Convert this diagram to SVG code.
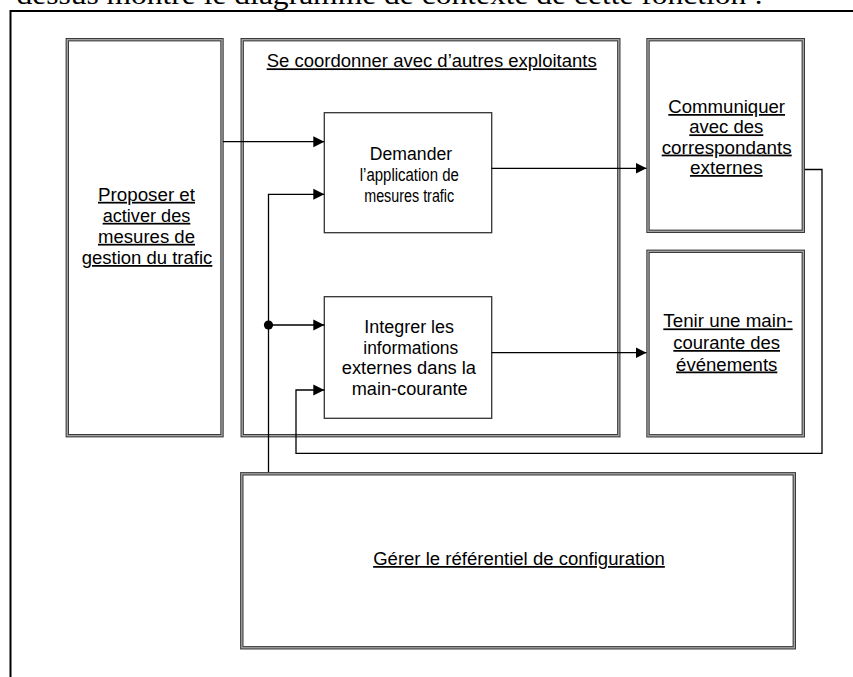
<svg xmlns="http://www.w3.org/2000/svg" width="853" height="677" viewBox="0 0 853 677">
<style>
.frame{fill:none;stroke:#000;stroke-width:2}
.dblo{fill:#fff;stroke:#3a3a3a;stroke-width:3.4}
.dbli{fill:none;stroke:#a8a8a8;stroke-width:1.3}
.box{fill:#fff;stroke:#333;stroke-width:1.3}
.con{fill:none;stroke:#000;stroke-width:1.3}
.t{font-family:"Liberation Sans",Arial,sans-serif;font-size:17.5px;fill:#000;text-anchor:middle}
.u{text-decoration:underline}
.cap{font-family:"Liberation Serif","Times New Roman",serif;font-size:28px;fill:#000}
</style>
<defs>
<marker id="arr" markerWidth="12" markerHeight="12" refX="11" refY="6" orient="auto" markerUnits="userSpaceOnUse">
<path d="M0,0.5 L11,6 L0,11.5 Z" fill="#000"/>
</marker>
</defs>
<rect width="853" height="677" fill="#fff"/>
<text class="cap" x="-2" y="4" textLength="765" lengthAdjust="spacingAndGlyphs">- dessus montre le diagramme de contexte de cette fonction :</text>
<path class="frame" d="M10.5,690 V11 H870"/>

<g id="node-proposer">
<rect class="dblo" x="67.3" y="39.7" width="154.7" height="396"/>
<rect class="dbli" x="67.3" y="39.7" width="154.7" height="396"/>
<text class="t u" x="146.5" y="200.8" textLength="97" lengthAdjust="spacingAndGlyphs">Proposer et</text>
<text class="t u" x="146.5" y="221.8" textLength="87.7" lengthAdjust="spacingAndGlyphs">activer des</text>
<text class="t u" x="146.5" y="242.8" textLength="97" lengthAdjust="spacingAndGlyphs">mesures de</text>
<text class="t u" x="147" y="264" textLength="130.7" lengthAdjust="spacingAndGlyphs">gestion du trafic</text>
</g>

<g id="node-coordonner">
<rect class="dblo" x="242.2" y="39.7" width="376.6" height="396"/>
<rect class="dbli" x="242.2" y="39.7" width="376.6" height="396"/>
<text class="t u" x="431.7" y="67.3" textLength="330" lengthAdjust="spacingAndGlyphs">Se coordonner avec d’autres exploitants</text>
</g>

<g id="node-demander">
<rect class="box" x="324.3" y="112.7" width="167.4" height="120"/>
<text class="t" x="411" y="160" textLength="82.3" lengthAdjust="spacingAndGlyphs">Demander</text>
<text class="t" x="409.3" y="181" textLength="99" lengthAdjust="spacingAndGlyphs">l’application de</text>
<text class="t" x="409.2" y="202" textLength="90" lengthAdjust="spacingAndGlyphs">mesures trafic</text>
</g>

<g id="node-integrer">
<rect class="box" x="324.3" y="296.7" width="167.4" height="121.6"/>
<text class="t" x="409.2" y="333.3" textLength="89.7" lengthAdjust="spacingAndGlyphs">Integrer les</text>
<text class="t" x="410.8" y="353.8" textLength="95" lengthAdjust="spacingAndGlyphs">informations</text>
<text class="t" x="408.9" y="374.4" textLength="134.3" lengthAdjust="spacingAndGlyphs">externes dans la</text>
<text class="t" x="409.7" y="395" textLength="116" lengthAdjust="spacingAndGlyphs">main-courante</text>
</g>

<g id="node-communiquer">
<rect class="dblo" x="648" y="39.7" width="155.3" height="191.6"/>
<rect class="dbli" x="648" y="39.7" width="155.3" height="191.6"/>
<text class="t u" x="726.7" y="113" textLength="116.7" lengthAdjust="spacingAndGlyphs">Communiquer</text>
<text class="t u" x="726.3" y="133.3" textLength="74" lengthAdjust="spacingAndGlyphs">avec des</text>
<text class="t u" x="726.7" y="153.6" textLength="130" lengthAdjust="spacingAndGlyphs">correspondants</text>
<text class="t u" x="726.3" y="174" textLength="72.7" lengthAdjust="spacingAndGlyphs">externes</text>
</g>

<g id="node-maincourante">
<rect class="dblo" x="648" y="251.3" width="155.3" height="184.5"/>
<rect class="dbli" x="648" y="251.3" width="155.3" height="184.5"/>
<text class="t u" x="728" y="327.4" textLength="129.3" lengthAdjust="spacingAndGlyphs">Tenir une main-</text>
<text class="t u" x="726.7" y="349" textLength="106.7" lengthAdjust="spacingAndGlyphs">courante des</text>
<text class="t u" x="726.7" y="370.5" textLength="101.3" lengthAdjust="spacingAndGlyphs">événements</text>
</g>

<g id="node-referentiel">
<rect class="dblo" x="241.8" y="473.8" width="552.5" height="174"/>
<rect class="dbli" x="241.8" y="473.8" width="552.5" height="174"/>
<text class="t u" x="519" y="565" textLength="291.7" lengthAdjust="spacingAndGlyphs">Gérer le référentiel de configuration</text>
</g>

<g id="connectors">
<path class="con" d="M223,141.7 H324.3" marker-end="url(#arr)"/>
<path class="con" d="M268.5,472 V194.3 H324.3" marker-end="url(#arr)"/>
<path class="con" d="M268.5,325 H324.3" marker-end="url(#arr)"/>
<circle cx="268.5" cy="325" r="4.6" fill="#000"/>
<path class="con" d="M491.7,168.3 H646.5" marker-end="url(#arr)"/>
<path class="con" d="M491.7,352.7 H646.5" marker-end="url(#arr)"/>
<path class="con" d="M805,169.5 H822 V453.3 H296 V390 H324.3" marker-end="url(#arr)"/>
</g>
</svg>
